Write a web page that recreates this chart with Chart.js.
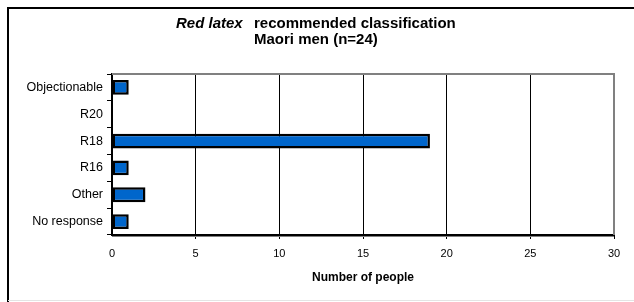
<!DOCTYPE html>
<html lang="en">
<head>
<meta charset="UTF-8">
<title>Red latex recommended classification</title>
<script src="https://cdn.jsdelivr.net/npm/chart.js@4.4.0/dist/chart.umd.min.js"></script>
<style>
  html, body { margin: 0; padding: 0; background: #fff; }
</style>
</head>
<body>
<canvas id="myChart" width="634" height="302"></canvas>
<script>
// data
const categories = ['Objectionable', 'R20', 'R18', 'R16', 'Other', 'No response'];
const people = [1, 0, 19, 1, 2, 1];
const xMin = 0;
const xMax = 30;
const xStep = 5;
const titleItalic = 'Red latex';
const titleRest = 'recommended classification';
const subtitle = 'Maori men (n=24)';
const xTitle = 'Number of people';

const FONT = "'Liberation Sans', Arial, sans-serif";

// frame, outer border and the two title lines
const decorations = {
    id: 'decorations',
    beforeDraw(chart) {
        const ctx = chart.ctx;
        ctx.save();
        ctx.fillStyle = '#fff';
        ctx.fillRect(0, 0, chart.width, chart.height);
        // outer border
        ctx.strokeStyle = '#000';
        ctx.lineWidth = 2;
        ctx.beginPath();
        ctx.moveTo(8, 302);
        ctx.lineTo(8, 8);
        ctx.lineTo(634, 8);
        ctx.stroke();
        ctx.strokeStyle = '#e4e4e4';
        ctx.lineWidth = 1;
        ctx.beginPath();
        ctx.moveTo(8, 300.5);
        ctx.lineTo(634, 300.5);
        ctx.stroke();

        // title
        ctx.fillStyle = '#000';
        ctx.textBaseline = 'alphabetic';
        ctx.textAlign = 'left';
        ctx.font = 'italic bold 15px ' + FONT;
        ctx.fillText(titleItalic, 176, 28);
        ctx.font = 'bold 15px ' + FONT;
        ctx.fillText(titleRest, 254, 28);
        ctx.fillText(subtitle, 254, 44);
        ctx.restore();
    },
    afterDraw(chart) {
        const ctx = chart.ctx;
        const a = chart.chartArea;
        ctx.save();
        ctx.strokeStyle = '#808080';
        ctx.lineWidth = 2;
        ctx.beginPath();
        ctx.moveTo(a.left, a.top);
        ctx.lineTo(a.right, a.top);
        ctx.lineTo(a.right, a.bottom);
        ctx.stroke();
        ctx.lineWidth = 1;
        ctx.beginPath();
        ctx.moveTo(a.left, a.bottom + 1.5);
        ctx.lineTo(a.right, a.bottom + 1.5);
        ctx.stroke();
        ctx.restore();
    }
};

const ctx = document.getElementById('myChart').getContext('2d');
const myChart = new Chart(ctx, {
    type: 'bar',
    data: {
        labels: categories,
        datasets: [{
            data: people,
            backgroundColor: '#0066cc',
            borderColor: '#000',
            borderWidth: 2.5,
            borderSkipped: false,
            categoryPercentage: 1,
            barPercentage: 0.55
        }]
    },
    options: {
        indexAxis: 'y',
        responsive: false,
        animation: false,
        layout: { padding: { top: 74, right: 20, left: 0, bottom: 0 } },
        plugins: {
            legend: { display: false },
            tooltip: { enabled: false }
        },
        scales: {
            x: {
                min: xMin,
                max: xMax,
                afterFit: function(scale) { scale.height = 67; },
                ticks: {
                    stepSize: xStep,
                    padding: 8,
                    color: '#000',
                    font: { family: FONT, size: 11 }
                },
                grid: {
                    color: function(c) {
                        if (c.tick && c.tick.value === xMin) return 'rgba(0,0,0,0)';
                        return '#000';
                    },
                    lineWidth: 1,
                    tickLength: 4
                },
                border: { color: '#000', width: 2 },
                title: {
                    display: true,
                    text: xTitle,
                    color: '#000',
                    font: { family: FONT, size: 12, weight: 'bold' },
                    padding: { top: 0, bottom: 17 }
                }
            },
            y: {
                afterFit: function(scale) { scale.width = 112; },
                ticks: {
                    padding: 4,
                    color: '#000',
                    font: { family: FONT, size: 12.5 }
                },
                grid: {
                    drawOnChartArea: false,
                    color: '#000',
                    tickLength: 5
                },
                border: { color: '#000', width: 2 }
            }
        }
    },
    plugins: [decorations]
});
</script>
</body>
</html>
